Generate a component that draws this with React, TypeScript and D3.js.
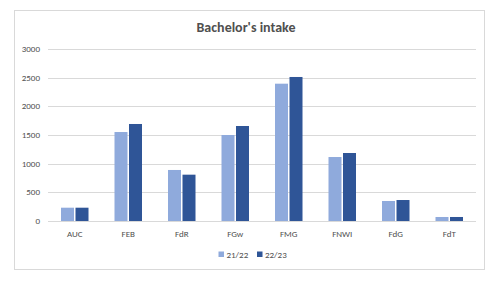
import React from "react";
import * as d3 from "d3";

const categories = ["AUC", "FEB", "FdR", "FGw", "FMG", "FNWI", "FdG", "FdT"];
const series2122 = [232, 1552, 890, 1500, 2395, 1116, 349, 70];
const series2223 = [232, 1692, 808, 1657, 2512, 1186, 366, 70];
const seriesNames = ["21/22", "22/23"];
const yTicks = [0, 500, 1000, 1500, 2000, 2500, 3000];
const colors = ["#8FAADC", "#2F5597"];

export default function App() {
  const W = 502, H = 284;
  const left = 48, right = 476, top = 49, bottom = 221;
  const x = d3.scaleBand<string>().domain(categories).range([left, right]);
  const y = d3.scaleLinear().domain([0, 3000]).range([bottom, top]);
  const barW = 13;
  const gap = 1.5;
  const font = "Carlito, Calibri, 'Liberation Sans', sans-serif";
  const series = [series2122, series2223];
  const textCol = "#505050";
  return (
    <svg width={W} height={H} style={{ position: "absolute", left: 0, top: 0 }} fontFamily={font}>
      <rect x={0} y={0} width={W} height={H} fill="#fff" />
      <rect x={14.5} y={10.5} width={470} height={259} fill="#fff" stroke="#D9D9D9" />
      <text x={246} y={32} textAnchor="middle" fontSize={14} fontWeight="bold" fill={textCol}>Bachelor's intake</text>
      {yTicks.map((t) => (
        <g key={t}>
          <line x1={left} x2={right} y1={Math.round(y(t)) + 0.5} y2={Math.round(y(t)) + 0.5} stroke="#D9D9D9" />
          <text x={40} y={y(t) + 3} textAnchor="end" fontSize={9} fill={textCol}>{t}</text>
        </g>
      ))}
      {categories.map((c, i) => {
        const cx = (x(c) as number) + x.bandwidth() / 2;
        return (
          <g key={c}>
            {series.map((s, k) => {
              const bx = k === 0 ? cx - gap / 2 - barW : cx + gap / 2;
              return (
                <rect key={k} x={bx} y={y(s[i])} width={barW} height={bottom - y(s[i])} fill={colors[k]} />
              );
            })}
            <text x={cx} y={237} textAnchor="middle" fontSize={9} fill={textCol}>{c}</text>
          </g>
        );
      })}
      {seriesNames.map((n, k) => {
        const lx = k === 0 ? 218.5 : 257;
        return (
          <g key={n}>
            <rect x={lx} y={251.5} width={5.5} height={5.5} fill={colors[k]} />
            <text x={lx + 8} y={257.5} fontSize={9} fill={textCol}>{n}</text>
          </g>
        );
      })}
    </svg>
  );
}
